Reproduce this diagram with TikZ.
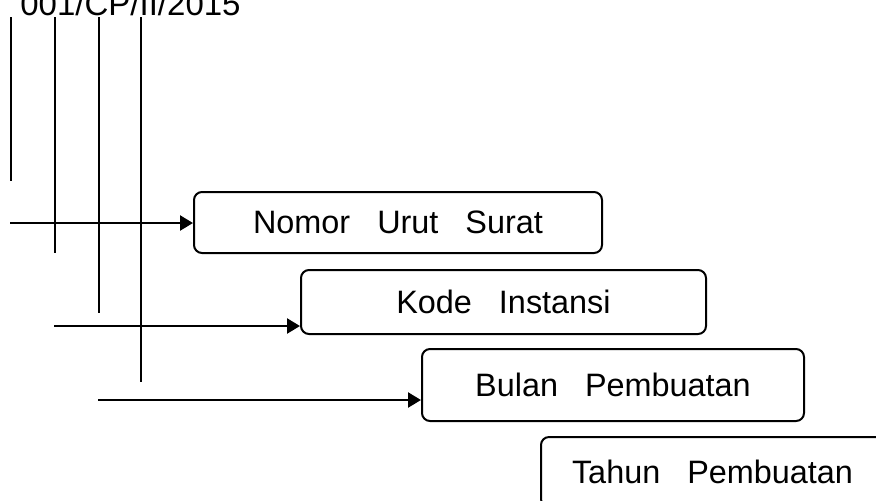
\documentclass[tikz,border=0pt]{standalone}
\usepackage{fontspec}
\setmainfont{Liberation Sans}
\usetikzlibrary{arrows.meta}
\tikzset{
  kotak/.style={draw, line width=1pt, rounded corners=4pt, inner sep=0pt, font=\fontsize{16.2}{19}\selectfont},
  garis/.style={line width=1.2pt},
  panah/.style={line width=1.2pt, -{Triangle[length=6.5pt,width=7.5pt]}}
}
\newcommand{\garistegak}[3]{ \coordinate (#1a) at ( #2 , 17 ); \coordinate (#1b) at ( #2 , #3 ); \draw[garis] (#1a) -- (#1b);}
\newcommand{\panahke}[4]{ \coordinate (#1) at ( #2 , #3 ); \draw[panah] (#1) -- (#1 -| #4.west);}

\begin{document}
\begin{tikzpicture}[x=0.5pt,y=-0.5pt]
\useasboundingbox (0,0) rectangle (876,500);
% nomor surat
\node[anchor=base west, inner sep=0pt, font=\fontsize{16.5}{20}\selectfont] (nomor) at (20,15) {001/CP/II/2015};
% kotak keterangan
\node[kotak, minimum width=204pt, minimum height=30.5pt] (urut) at (398,222.5) {Nomor\ \ \ Urut\ \ \ Surat};
\node[kotak, minimum width=202.5pt, minimum height=32pt] (kode) at (503.5,302) {Kode\ \ \ Instansi};
\node[kotak, minimum width=191pt, minimum height=36pt] (bulan) at (613,385) {Bulan\ \ \ Pembuatan};
\node[kotak, minimum width=171.5pt, minimum height=35pt] (tahun) at (712.5,472) {Tahun\ \ \ Pembuatan};
% garis tegak
\garistegak{g1}{11}{181}
\garistegak{g2}{55}{253}
\garistegak{g3}{99}{313}
\garistegak{g4}{141}{382}
% panah
\panahke{p1}{10}{223}{urut}
\panahke{p2}{54}{326}{kode}
\panahke{p3}{98}{400}{bulan}
\end{tikzpicture}
\end{document}
